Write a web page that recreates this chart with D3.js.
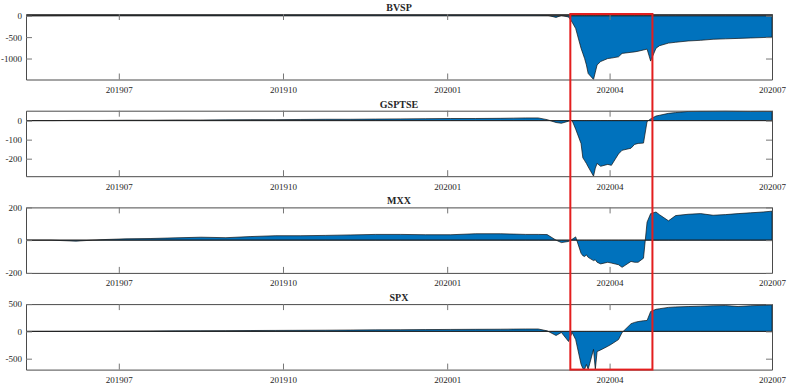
<!DOCTYPE html>
<html>
<head>
<meta charset="utf-8">
<script src="https://cdn.jsdelivr.net/npm/d3@7"></script>
<style>
  body { margin: 0; background: #fff; }
  text { font-family: "Liberation Serif", "Times New Roman", serif; }
</style>
</head>
<body>
<div id="chart"></div>
<script>
// sample dates (shared by all four series)
const dates = [
  "2019-05-10", "2019-05-24", "2019-06-07", "2019-06-21", "2019-07-05", "2019-07-19", "2019-08-02", "2019-08-16",
  "2019-08-30", "2019-09-13", "2019-09-27", "2019-10-11", "2019-10-25", "2019-11-08", "2019-11-22", "2019-12-06",
  "2019-12-20", "2020-01-03", "2020-01-17", "2020-01-31", "2020-02-07", "2020-02-14", "2020-02-21", "2020-02-26",
  "2020-03-02", "2020-03-05", "2020-03-09", "2020-03-11", "2020-03-13", "2020-03-16", "2020-03-17", "2020-03-18",
  "2020-03-19", "2020-03-20", "2020-03-23", "2020-03-24", "2020-03-25", "2020-03-27", "2020-03-31", "2020-04-02",
  "2020-04-06", "2020-04-08", "2020-04-13", "2020-04-15", "2020-04-17", "2020-04-20", "2020-04-22", "2020-04-24",
  "2020-04-27", "2020-04-29", "2020-05-04", "2020-05-08", "2020-05-15", "2020-05-22", "2020-05-29", "2020-06-05",
  "2020-06-12", "2020-06-19", "2020-06-26", "2020-07-01"
];

const bvsp = [
  0, 2, 5, 8, 10, 12, 14, 16, 18, 20, 22, 24, 25, 27, 28, 30, 32, 34, 36, 38,
  40, 36, 25, 12, -40, 5, -30, -150, -300, -760,
  -880, -1000, -1150, -1350, -1490, -1320, -1150, -1070, -1000, -990,
  -960, -880, -855, -845, -830, -800, -780, -1060, -760, -700,
  -640, -620, -590, -575, -550, -540, -530, -520, -510, -500
];
const gsptse = [
  0, 0, 1, 1, 2, 2, 3, 3, 4, 5, 5, 6, 7, 7, 8, 9, 10, 11, 11, 12,
  13, 14, 14, 5, -10, -14, -3, 0, -45, -120,
  -195, -210, -225, -243, -292, -250, -225, -240, -230, -235,
  -175, -156, -145, -125, -120, -118, -5, 9, 24, 28,
  38, 42, 48, 50, 51, 52, 50, 48, 49, 48
];
const mxx = [
  0, 0, -6, 3, 8, 10, 14, 18, 15, 22, 27, 27, 29, 32, 35, 35, 33, 33, 39, 39,
  37, 35, 35, 34, 0, -15, -8, 5, 20, -80,
  -95, -100, -90, -105, -125, -120, -135, -145, -135, -140,
  -150, -166, -130, -135, -135, -110, 110, 162, 172, 155,
  118, 150, 158, 162, 152, 156, 162, 167, 172, 177
];
const spx = [
  0, 1, 2, 4, 6, 8, 10, 12, 14, 16, 18, 20, 22, 25, 28, 30, 33, 36, 38, 40,
  42, 44, 44, 10, -75, -20, -185, -20, -150, -600,
  -680, -696, -606, -696, -330, -696, -370, -340, -273, -235,
  -150, -20, 140, 165, 180, 195, 200, 365, 405, 415,
  440, 448, 455, 462, 470, 473, 455, 470, 478, 486
];

const names = ["BVSP", "GSPTSE", "MXX", "SPX"];
const series = [bvsp, gsptse, mxx, spx];
const yLims = [[-1490, 40], [-292, 52], [-200, 200], [-700, 500]];
const yTicks = [[-1000, -500, 0], [-200, -100, 0], [-200, 0, 200], [-500, 0, 500]];
const xTicks = ["2019-07-01", "2019-10-01", "2020-01-01", "2020-04-01", "2020-07-01"];
const xRange = ["2019-05-10", "2020-07-01"];
const boxDates = ["2020-03-10", "2020-04-25"];

const width = 788, height = 387;
const left = 26, right = 772, top0 = 14, step = 96.7, panelH = 65.5;
const parse = d3.timeParse("%Y-%m-%d");
const axisColor = "#4a4a4a";

const svg = d3.select("#chart").append("svg")
    .attr("width", width)
    .attr("height", height);

const x = d3.scaleTime()
    .domain(xRange.map(parse))
    .range([left, right]);

series.forEach((vals, i) => {
  const top = top0 + i * step, bottom = top + panelH;
  const y = d3.scaleLinear().domain(yLims[i]).range([bottom, top]);
  const data = dates.map((d, j) => ({ date: parse(d), v: vals[j] }));

  const g = svg.append("g");

  g.append("clipPath").attr("id", "clip" + i)
    .append("rect")
      .attr("x", left).attr("y", top)
      .attr("width", right - left).attr("height", panelH);

  const area = d3.area()
      .x(d => x(d.date))
      .y0(y(0))
      .y1(d => y(d.v));

  g.append("path")
      .datum(data)
      .attr("clip-path", `url(#clip${i})`)
      .attr("d", area)
      .attr("fill", "#0072BD")
      .attr("stroke", "#111")
      .attr("stroke-width", 0.7);

  // baseline
  g.append("line")
      .attr("x1", left).attr("x2", right)
      .attr("y1", y(0)).attr("y2", y(0))
      .attr("stroke", "#222").attr("stroke-width", 0.9);

  const fmt = d3.timeFormat("%Y%m");
  const tv = xTicks.map(parse);

  const ax = [
    g.append("g").attr("transform", `translate(0,${bottom})`)
      .call(d3.axisBottom(x).tickValues(tv).tickSize(-6).tickSizeOuter(0).tickPadding(7).tickFormat(fmt)),
    g.append("g").attr("transform", `translate(0,${top})`)
      .call(d3.axisTop(x).tickValues(tv).tickSize(-6).tickSizeOuter(0).tickFormat("")),
    g.append("g").attr("transform", `translate(${left},0)`)
      .call(d3.axisLeft(y).tickValues(yTicks[i]).tickSize(-6).tickSizeOuter(0).tickPadding(4)
        .tickFormat(d => String(d))),
    g.append("g").attr("transform", `translate(${right},0)`)
      .call(d3.axisRight(y).tickValues(yTicks[i]).tickSize(-6).tickSizeOuter(0).tickFormat(""))
  ];
  ax.forEach(a => {
    a.select(".domain").attr("stroke", axisColor);
    a.selectAll(".tick line").attr("stroke", "#777");
    a.selectAll("text").attr("fill", "#262626").style("font-size", "9px")
      .style("font-family", "'Liberation Serif', serif");
  });

  g.append("text")
      .attr("x", (left + right) / 2)
      .attr("y", top - 3)
      .attr("text-anchor", "middle")
      .style("font-size", "10px")
      .style("font-weight", "bold")
      .attr("fill", "#262626")
      .text(names[i]);
});

// highlight box across all panels
const bx = boxDates.map(d => x(parse(d)));
svg.append("rect")
    .attr("x", bx[0])
    .attr("y", top0)
    .attr("width", bx[1] - bx[0])
    .attr("height", 3 * step + panelH)
    .attr("fill", "none")
    .attr("stroke", "#e31e1e")
    .attr("stroke-width", 2);
</script>
</body>
</html>
